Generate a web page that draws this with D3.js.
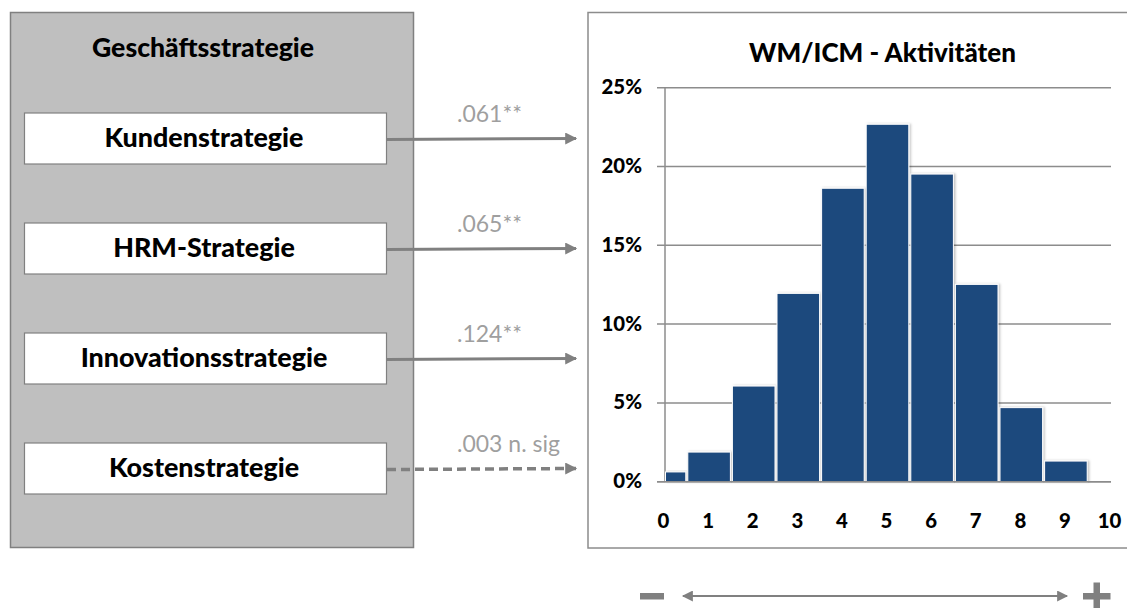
<!DOCTYPE html>
<html>
<head>
<meta charset="utf-8">
<script src="https://cdn.jsdelivr.net/npm/d3@7"></script>
<style>
  html, body { margin: 0; padding: 0; background: #ffffff; }
  svg { display: block; font-family: Lato, "Open Sans", sans-serif; }
</style>
</head>
<body>
<svg id="chart" width="1127" height="608"></svg>
<script>
// ---------------- data ----------------
const leftTitle = "Geschäftsstrategie";
const strategies = ["Kundenstrategie", "HRM-Strategie", "Innovationsstrategie", "Kostenstrategie"];
const coefficients = [".061**", ".065**", ".124**", ".003 n. sig"];
const significant = [true, true, true, false];

const chartTitle = "WM/ICM - Aktivitäten";
const scores = [0, 1, 2, 3, 4, 5, 6, 7, 8, 9];
const shares = [0.62, 1.88, 6.07, 11.95, 18.62, 22.68, 19.52, 12.52, 4.70, 1.31];
const yTicks = [0, 5, 10, 15, 20, 25];
const xTicks = [0, 1, 2, 3, 4, 5, 6, 7, 8, 9, 10];

// ---------------- setup ----------------
const svg = d3.select("#chart");
const GRAY = "#808080";
const LINE = "#8c8c8c";
const BAR = "#1f497d";
const BOLD = 900;

const defs = svg.append("defs");
function marker(id, orient, w, h) {
  defs.append("marker")
    .attr("id", id).attr("viewBox", "0 0 10 10")
    .attr("refX", 9).attr("refY", 5)
    .attr("markerUnits", "userSpaceOnUse")
    .attr("markerWidth", w).attr("markerHeight", h)
    .attr("orient", orient)
    .append("path").attr("d", "M0,0 L10,5 L0,10 Z").attr("fill", GRAY);
}
marker("arrowHead", "auto", 14, 12);
marker("arrowHeadS", "auto", 13, 11);
marker("arrowHeadS2", "auto-start-reverse", 13, 11);
const f = defs.append("filter").attr("id", "shadow").attr("x", "-10%").attr("y", "-10%").attr("width", "130%").attr("height", "130%");
f.append("feDropShadow").attr("dx", 1.5).attr("dy", 0).attr("stdDeviation", 1.2).attr("flood-color", "#000").attr("flood-opacity", 0.25);

function fitWidth(sel, target) {
  const w = sel.node().getComputedTextLength();
  const fs = parseFloat(sel.attr("font-size"));
  return fs * target / w;
}

// ---------------- left panel ----------------
svg.append("rect")
  .attr("x", 10.5).attr("y", 12.5).attr("width", 403).attr("height", 535)
  .attr("fill", "#bfbfbf").attr("stroke", GRAY).attr("stroke-width", 1.5);

const lt = svg.append("text")
  .attr("x", 203).attr("y", 57).attr("text-anchor", "middle")
  .attr("font-weight", BOLD).attr("font-size", 20).attr("fill", "#000")
  .text(leftTitle);
lt.attr("font-size", fitWidth(lt, 222));

const yBox = d3.scalePoint().domain(strategies).range([138.5, 468.5]);
const boxH = 51;

const boxes = svg.append("g").selectAll("g").data(strategies).join("g");
boxes.append("rect")
  .attr("x", 24.5).attr("y", d => yBox(d) - boxH / 2)
  .attr("width", 362).attr("height", boxH)
  .attr("fill", "#ffffff").attr("stroke", GRAY).attr("stroke-width", 1.2);
const boxText = boxes.append("text")
  .attr("x", 204).attr("y", d => yBox(d) + 8)
  .attr("text-anchor", "middle").attr("font-weight", BOLD).attr("font-size", 20).attr("fill", "#000")
  .text(d => d);
const boxFs = fitWidth(d3.select(boxText.nodes()[0]), 199);
boxText.attr("font-size", boxFs);

// connectors
const conn = svg.append("g").selectAll("g").data(strategies).join("g");
conn.append("line")
  .attr("x1", 387).attr("x2", 576)
  .attr("y1", d => yBox(d) + 1).attr("y2", d => yBox(d))
  .attr("stroke", GRAY).attr("stroke-width", (d, i) => significant[i] ? 3 : 3.5)
  .attr("stroke-dasharray", (d, i) => significant[i] ? null : "9,5")
  .attr("marker-end", "url(#arrowHead)");
const coefText = conn.append("text")
  .attr("x", 457).attr("y", d => yBox(d) - 17)
  .attr("font-size", 17).attr("fill", "#9f9f9f")
  .text((d, i) => coefficients[i]);
const cFs = fitWidth(d3.select(coefText.nodes()[0]), 65);
coefText.attr("font-size", cFs);

// ---------------- right chart ----------------
svg.append("rect")
  .attr("x", 588).attr("y", 12.5).attr("width", 600).attr("height", 535.5)
  .attr("fill", "#ffffff").attr("stroke", LINE).attr("stroke-width", 1.5);

const ct = svg.append("text")
  .attr("x", 882.5).attr("y", 62).attr("text-anchor", "middle")
  .attr("font-weight", BOLD).attr("font-size", 22).attr("fill", "#000")
  .text(chartTitle);
ct.attr("font-size", fitWidth(ct, 267));

const x = d3.scaleLinear().domain([0, 10]).range([664.5, 1110.5]);
const y = d3.scaleLinear().domain([0, 25]).range([481.7, 87.7]);

// gridlines
svg.append("g").selectAll("line").data(yTicks).join("line")
  .attr("x1", 657).attr("x2", 1111)
  .attr("y1", d => y(d)).attr("y2", d => y(d))
  .attr("stroke", LINE).attr("stroke-width", 1.5);

// y axis line
svg.append("line")
  .attr("x1", 665).attr("x2", 665).attr("y1", y(25)).attr("y2", y(0))
  .attr("stroke", LINE).attr("stroke-width", 1.5);

// bars
svg.append("g").selectAll("rect").data(scores).join("rect")
  .attr("x", d => Math.max(x(d - 0.5) + 1, x(0) + 1))
  .attr("width", d => x(d + 0.5) - 1 - Math.max(x(d - 0.5) + 1, x(0) + 1))
  .attr("y", (d, i) => y(shares[i]))
  .attr("height", (d, i) => y(0) - y(shares[i]))
  .attr("fill", BAR).attr("stroke", "#ffffff").attr("stroke-width", 1)
  .attr("filter", "url(#shadow)");

// baseline on top
svg.append("line")
  .attr("x1", 657).attr("x2", 1111).attr("y1", y(0)).attr("y2", y(0))
  .attr("stroke", LINE).attr("stroke-width", 1.5);

// y tick labels
const yl = svg.append("g").selectAll("text").data(yTicks).join("text")
  .attr("x", 642).attr("y", d => y(d) + 6.5)
  .attr("text-anchor", "end").attr("font-weight", BOLD).attr("font-size", 18).attr("fill", "#000")
  .text(d => d + "%");
const yFs = fitWidth(d3.select(yl.nodes()[5]), 40.5);
yl.attr("font-size", yFs);

// x tick labels
svg.append("g").selectAll("text").data(xTicks).join("text")
  .attr("x", d => x(d) - 1).attr("y", 527.5)
  .attr("text-anchor", "middle").attr("font-weight", BOLD).attr("font-size", yFs).attr("fill", "#000")
  .text(d => d);

// ---------------- bottom scale arrow ----------------
svg.append("line")
  .attr("x1", 683).attr("x2", 1067).attr("y1", 596).attr("y2", 596)
  .attr("stroke", GRAY).attr("stroke-width", 2)
  .attr("marker-start", "url(#arrowHeadS2)")
  .attr("marker-end", "url(#arrowHeadS)");
// minus symbol
svg.append("path")
  .attr("d", "M640,593 H664 V599.5 H640 Z").attr("fill", GRAY);
// plus symbol
svg.append("path")
  .attr("d", "M1083,593 H1093.5 V582.5 H1100 V593 H1110.5 V599.5 H1100 V612 H1093.5 V599.5 H1083 Z")
  .attr("fill", GRAY);
</script>
</body>
</html>
